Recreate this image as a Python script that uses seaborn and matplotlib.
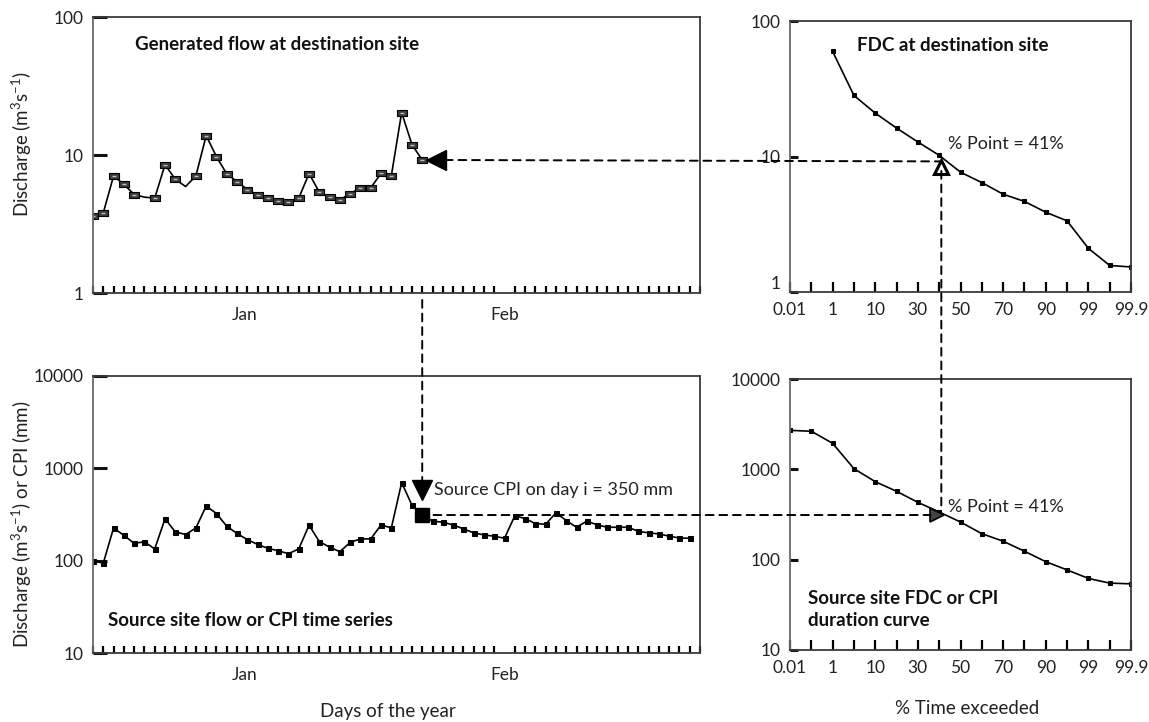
import numpy as np
import seaborn as sns
import matplotlib.pyplot as plt
from matplotlib.path import Path
from matplotlib.patches import ConnectionPatch
from matplotlib.ticker import NullLocator

# Generated flow at destination site (m3/s), days 0..32
gen_days = list(range(33))
gen_flow = [3.59, 3.81, 7.05, 6.14, 5.17, 4.95, 4.87, 8.51, 6.67, 5.91,
            7.05, 13.8, 9.73, 7.29, 6.42, 5.62, 5.14, 4.89, 4.68, 4.60,
            4.87, 7.33, 5.38, 4.94, 4.73, 5.26, 5.78, 5.78, 7.37, 7.09,
            20.3, 11.9, 9.2]

# Source site flow / CPI time series, days 0..58
src_days = list(range(59))
src_cpi = [100, 94, 226, 188, 154, 160, 134, 284, 205, 192,
           226, 390, 324, 236, 197, 169, 150, 136, 128, 119,
           134, 242, 161, 140, 125, 158, 172, 172, 244, 226,
           700, 400, 312, 268, 261, 244, 221, 200, 190, 184,
           175, 306, 286, 252, 248, 330, 272, 230, 268, 244,
           230, 230, 230, 208, 200, 195, 184, 176, 175]

# duration curves on a probability axis (positions 0..16, labels every 2nd)
pct_labels = ["0.01", "1", "10", "30", "50", "70", "90", "99", "99.9"]
pct_values = [0.01, 1, 10, 30, 50, 70, 90, 99, 99.9]
dest_pos = list(range(2, 17))
dest_fdc = [59.6, 28.2, 20.9, 16.2, 12.8, 10.2, 7.66, 6.42, 5.27, 4.66,
            3.88, 3.35, 2.10, 1.57, 1.53]
src_pos = list(range(17))
src_fdc = [2700, 2640, 1940, 1017, 730, 571, 431, 337, 261, 194,
           160, 124, 95, 77, 62, 55, 54]

month_labels = ["Jan", "Feb"]
month_pos = [14.7, 40]

sel_day = 32
pct_point = 41

sns.set_style("white")
plt.rcParams["font.family"] = ["Lato", "DejaVu Sans"]
plt.rcParams["mathtext.fontset"] = "custom"
plt.rcParams["mathtext.rm"] = "Lato"
plt.rcParams["mathtext.it"] = "Lato:italic"
plt.rcParams["mathtext.bf"] = "Lato:bold"

W, H = 1149, 722
fig = plt.figure(figsize=(W / 100, H / 100), dpi=100)


def px_axes(left, top, right, bottom):
    return fig.add_axes([left / W, 1 - bottom / H, (right - left) / W,
                         (bottom - top) / H])


ax_tl = px_axes(93, 17, 700, 293)
ax_bl = px_axes(93, 376, 700, 653)
ax_tr = px_axes(790, 21, 1131, 292)
ax_br = px_axes(790, 379, 1131, 650)

for ax in (ax_tl, ax_bl, ax_tr, ax_br):
    for side, sp in ax.spines.items():
        sp.set_color("#3a3a3a")
        sp.set_linewidth(1.3)
    ax.spines["left"].set_color("#6a6a6a")
    ax.set_yscale("log")
    ax.yaxis.set_minor_locator(NullLocator())
    ax.tick_params(which="both", left=True, bottom=True)
    ax.tick_params(axis="y", which="major", direction="in", length=7,
                   width=2.2, pad=7, labelsize=12.5, colors="#222222",
                   color="#111111")

# time series panels
for ax, ylim, yt in ((ax_tl, (1, 100), [1, 10, 100]),
                     (ax_bl, (10, 10000), [10, 100, 1000, 10000])):
    ax.set_ylim(*ylim)
    ax.set_yticks(yt, labels=[str(v) for v in yt])
    ax.yaxis.set_minor_locator(NullLocator())
    ax.set_xlim(0, 59)
    ax.set_xticks(month_pos, labels=month_labels)
    ax.set_xticks(range(60), minor=True)
    ax.tick_params(axis="x", which="major", length=0, pad=10,
                   labelsize=12.5, colors="#222222")
    ax.tick_params(axis="x", which="minor", direction="in", length=5,
                   width=1.6, color="black")
    ax.tick_params(axis="y", length=10)

rect = Path([(-1, -0.55), (1, -0.55), (1, 0.55), (-1, 0.55), (-1, -0.55)],
            [Path.MOVETO, Path.LINETO, Path.LINETO, Path.LINETO,
             Path.CLOSEPOLY])
gen_marked = [d for d in gen_days if d not in (5, 9)]
sns.lineplot(x=gen_days, y=gen_flow, ax=ax_tl, color="black", lw=1.2,
             marker=rect, ms=7.5, mfc="#3c3c3c", mec="black", mew=0.8,
             markevery=gen_marked)
ax_tl.plot(gen_marked, [gen_flow[d] for d in gen_marked], ls="none",
           marker="_", ms=3.5, mew=1, color="#bdbdbd")
ax_tl.plot(sel_day + 1.3, gen_flow[sel_day], marker="<", ms=14,
           color="black", clip_on=False)

sns.lineplot(x=src_days, y=src_cpi, ax=ax_bl, color="black", lw=1.2,
             marker="s", ms=3.6, mfc="black", mec="black")
ax_bl.plot(sel_day, src_cpi[sel_day], marker="s", ms=10, color="black")
ax_bl.plot(sel_day, src_cpi[sel_day] * 1.85, marker="v", ms=14,
           color="black")
ax_bl.text(sel_day + 1.1, src_cpi[sel_day] * 1.85,
           "Source CPI on day i = 350 mm", fontsize=13, va="center",
           ha="left", color="#222222")

# duration curve panels
for ax, ylim, yt in ((ax_tr, (1, 100), [1, 10, 100]),
                     (ax_br, (10, 10000), [10, 100, 1000, 10000])):
    ax.set_ylim(*ylim)
    ax.set_yticks(yt, labels=[str(v) for v in yt])
    ax.yaxis.set_minor_locator(NullLocator())
    ax.set_xlim(0, 16)
    ax.set_xticks(range(17), labels=[pct_labels[i // 2] if i % 2 == 0
                                     else "" for i in range(17)])
    ax.tick_params(axis="x", direction="in", length=7, width=1.6,
                   pad=7, labelsize=12.5, colors="#222222")
    ax.tick_params(axis="x", which="major", color="black")
    ax.tick_params(axis="y", length=6)

# the "1" on the destination FDC sits a little high, above "0.01"
ax_tr.get_yticklabels()[0].set_verticalalignment("bottom")

sns.lineplot(x=dest_pos, y=dest_fdc, ax=ax_tr, color="black", lw=1.2,
             marker="s", ms=3.4, mfc="black", mec="black")
sns.lineplot(x=src_pos, y=src_fdc, ax=ax_br, color="black", lw=1.2,
             marker="s", ms=3.2, mfc="black", mec="black")

p_pos = np.interp(pct_point, pct_values, np.arange(0, 17, 2))

ax_tr.plot(p_pos, gen_flow[sel_day] * 0.91, marker="^", ms=10, mfc="white",
           mec="black", mew=2.2)
ax_tr.text(p_pos + 0.3, 12.4, f"% Point = {pct_point}%", fontsize=13,
           va="center", ha="left", color="#222222")
ax_br.plot(p_pos - 0.2, src_cpi[sel_day], marker=">", ms=10,
           mfc="#444444", mec="black", mew=1.2)
ax_br.text(p_pos + 0.3, 380, f"% Point = {pct_point}%", fontsize=13,
           va="center", ha="left", color="#222222")

# panel titles
bold = dict(fontsize=13.5, fontweight="bold", color="#111111")
ax_tl.text(0.069, 0.902, "Generated flow at destination site",
           transform=ax_tl.transAxes, va="center", **bold)
ax_tr.text(0.196, 0.911, "FDC at destination site",
           transform=ax_tr.transAxes, va="center", **bold)
ax_bl.text(0.025, 0.116, "Source site flow or CPI time series",
           transform=ax_bl.transAxes, va="center", **bold)
ax_br.text(0.053, 0.149, "Source site FDC or CPI\nduration curve",
           transform=ax_br.transAxes, va="center", linespacing=1.35,
           **bold)

# axis labels
lab = dict(fontsize=13.5, color="#222222", ha="center", va="center")
fig.text(22 / W, 1 - 144 / H, "Discharge (m$^{3}$s$^{-1}$)",
         rotation=90, **lab)
fig.text(22 / W, 1 - 524 / H, "Discharge (m$^{3}$s$^{-1}$) or CPI (mm)",
         rotation=90, **lab)
fig.text(388 / W, 1 - 711 / H, "Days of the year", **lab)
fig.text(967 / W, 1 - 709 / H, "% Time exceeded", **lab)

# dashed connectors between panels
dash = dict(arrowstyle="-", linestyle=(0, (4, 3)), lw=1.4, color="black",
            clip_on=False)
links = [
    ((sel_day + 2.2, gen_flow[sel_day]), ax_tl,
     (p_pos, gen_flow[sel_day]), ax_tr),
    ((p_pos, gen_flow[sel_day] * 0.85), ax_tr,
     (p_pos, 380), ax_br),
    ((sel_day, 0.89), ax_tl,
     (sel_day, src_cpi[sel_day] * 2.3), ax_bl),
    ((sel_day + 1.1, src_cpi[sel_day]), ax_bl,
     (p_pos - 0.5, src_cpi[sel_day]), ax_br),
]
for xyA, axA, xyB, axB in links:
    con = ConnectionPatch(xyA=xyA, coordsA=axA.transData, xyB=xyB,
                          coordsB=axB.transData, **dash)
    fig.add_artist(con)

plt.savefig("out.png", dpi=100)
